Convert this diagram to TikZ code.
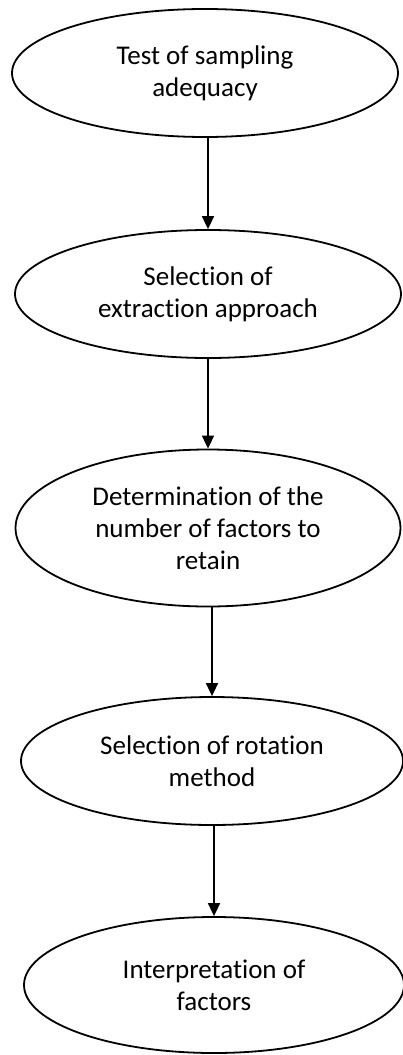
\documentclass[tikz,border=0pt]{standalone}
\usepackage{fontspec}
\setmainfont{Carlito}[Ligatures=NoCommon]
\usetikzlibrary{arrows.meta,shapes.geometric}
\begin{document}
\begin{tikzpicture}[x=1pt,y=-1pt,
  stage/.style={ellipse, draw=black, line width=1.8pt, inner sep=0pt, align=center,
    font=\fontsize{27}{32}\selectfont},
  arr/.style={draw=black, line width=1.6pt, -{Triangle[length=13pt,width=12pt]}}]
\useasboundingbox (0,0) rectangle (402,1055);
\fill[white] (0,0) rectangle (402,1055);
\node[stage, minimum width=386pt, minimum height=128pt] (e1) at (205,73) {Test of sampling\\adequacy};
\node[stage, minimum width=386pt, minimum height=128pt] (e2) at (208,294) {Selection of\\extraction approach};
\node[stage, minimum width=385pt, minimum height=157pt] (e3) at (208,528) {Determination of the\\number of factors to\\retain};
\node[stage, minimum width=382pt, minimum height=128pt] (e4) at (212,761) {Selection of rotation\\method};
\node[stage, minimum width=380pt, minimum height=136pt] (e5) at (214,985) {Interpretation of\\factors};
\draw[arr] (e1.south -| e2.north) -- (e2.north);
\draw[arr] (e2.south -| e3.north) -- (e3.north);
\draw[arr] (e3.south -| e4.north) -- (e4.north);
\draw[arr] (e4.south -| e5.north) -- (e5.north);
\end{tikzpicture}
\end{document}
